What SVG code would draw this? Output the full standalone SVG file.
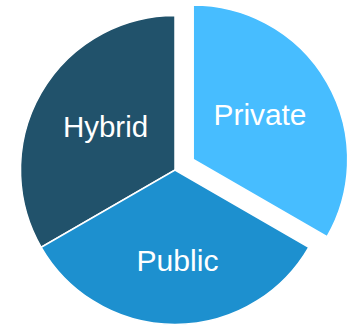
<svg xmlns="http://www.w3.org/2000/svg" width="357" height="327" viewBox="0 0 357 327">
<style>
.slice{stroke:#ffffff;stroke-width:1.5;stroke-linejoin:miter}
.lbl{font-family:"Liberation Sans",Arial,sans-serif;font-size:29.5px;fill:#ffffff;text-anchor:middle}
</style>
<rect width="357" height="327" fill="#ffffff"/>
<g id="hybrid">
<path class="slice" fill="#21526B" d="M175,170 L41.2,247.25 A154.5,154.5 0 0 1 175,15.5 Z"/>
<text class="lbl" x="105.5" y="137.3">Hybrid</text>
</g>
<g id="public">
<path class="slice" fill="#1D90CF" d="M175,170 L308.8,247.25 A154.5,154.5 0 0 1 41.2,247.25 Z"/>
<text class="lbl" x="177.5" y="270.7" textLength="82" lengthAdjust="spacingAndGlyphs">Public</text>
</g>
<g id="private">
<path class="slice" fill="#47BDFF" d="M193.2,159.5 L193.2,5 A154.5,154.5 0 0 1 327,236.75 Z"/>
<text class="lbl" x="260" y="124.7" textLength="93" lengthAdjust="spacingAndGlyphs">Private</text>
</g>
<g id="connectors"/>
</svg>
